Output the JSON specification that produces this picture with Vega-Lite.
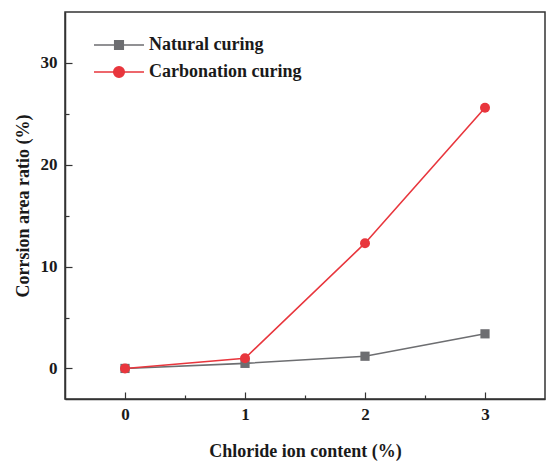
{
  "$schema": "https://vega.github.io/schema/vega-lite/v6.json",
  "autosize": "none",
  "width": 480,
  "height": 387,
  "padding": {"left": 65, "top": 12, "right": 2, "bottom": 62},
  "background": "white",
  "config": {
    "font": "Liberation Serif",
    "view": {"stroke": "#333333", "strokeWidth": 1.5},
    "axis": {
      "labelFont": "Liberation Serif",
      "labelFontWeight": "bold",
      "labelFontSize": 17,
      "labelColor": "#1a1a1a",
      "titleFont": "Liberation Serif",
      "titleFontWeight": "bold",
      "titleFontSize": 18,
      "titleColor": "#1a1a1a",
      "domainColor": "#333333",
      "domainWidth": 1.5,
      "tickColor": "#333333",
      "tickWidth": 1.2,
      "grid": false
    }
  },
  "data": {
    "values": [
      {"content": 0, "ratio": 0, "curing": "Natural curing"},
      {"content": 1, "ratio": 0.5, "curing": "Natural curing"},
      {"content": 2, "ratio": 1.2, "curing": "Natural curing"},
      {"content": 3, "ratio": 3.4, "curing": "Natural curing"},
      {"content": 0, "ratio": 0, "curing": "Carbonation curing"},
      {"content": 1, "ratio": 1.0, "curing": "Carbonation curing"},
      {"content": 2, "ratio": 12.3, "curing": "Carbonation curing"},
      {"content": 3, "ratio": 25.6, "curing": "Carbonation curing"}
    ]
  },
  "encoding": {
    "x": {
      "field": "content",
      "type": "quantitative",
      "scale": {"domain": [-0.5, 3.5], "nice": false, "zero": false},
      "axis": {
        "title": "Chloride ion content (%)",
        "values": [0, 0.5, 1, 1.5, 2, 2.5, 3],
        "labelExpr": "datum.value % 1 === 0 ? format(datum.value, 'd') : ''",
        "tickSize": {"condition": {"test": "datum.value % 1 !== 0", "value": -4}, "value": -7},
        "labelPadding": 14,
        "titlePadding": 20
      }
    },
    "y": {
      "field": "ratio",
      "type": "quantitative",
      "scale": {"domain": [-3, 35], "nice": false, "zero": false},
      "axis": {
        "title": "Corrsion area ratio (%)",
        "values": [0, 5, 10, 15, 20, 25, 30],
        "labelExpr": "datum.value % 10 === 0 ? format(datum.value, 'd') : ''",
        "tickSize": {"condition": {"test": "datum.value % 10 !== 0", "value": -4}, "value": -7},
        "labelPadding": 15,
        "titlePadding": 8
      }
    },
    "color": {
      "field": "curing",
      "type": "nominal",
      "sort": ["Natural curing", "Carbonation curing"],
      "scale": {"domain": ["Natural curing", "Carbonation curing"], "range": ["#6d6e71", "#e8363d"]},
      "legend": {
        "title": null,
        "orient": "none",
        "legendX": 45,
        "legendY": 24,
        "padding": 0,
        "symbolSize": 100,
        "symbolType": "M-5,0H5M-0.85,-0.85H0.85V0.85H-0.85Z",
        "labelOffset": 21,
        "rowPadding": 9,
        "labelFont": "Liberation Serif",
        "labelFontWeight": "bold",
        "labelFontSize": 18,
        "labelColor": "#1a1a1a",
        "encode": {
          "symbols": {
            "update": {
              "shape": {"signal": "datum.value === 'Natural curing' ? 'M-5,0H5M-0.85,-0.85H0.85V0.85H-0.85Z' : 'M-5,0H5M1.05,0A1.05,1.05 0 1,1 -1.05,0A1.05,1.05 0 1,1 1.05,0Z'"},
              "fill": {"signal": "datum.value === 'Natural curing' ? '#6d6e71' : '#e8363d'"},
              "stroke": {"signal": "datum.value === 'Natural curing' ? '#6d6e71' : '#e8363d'"},
              "strokeWidth": {"value": 1.6},
              "opacity": {"value": 1}
            }
          }
        }
      }
    }
  },
  "layer": [
    {
      "mark": {"type": "line", "strokeWidth": 1.6}
    },
    {
      "transform": [{"filter": "datum.curing === 'Natural curing'"}],
      "mark": {"type": "point", "filled": true, "opacity": 1, "shape": "square", "size": 85}
    },
    {
      "transform": [{"filter": "datum.curing === 'Carbonation curing'"}],
      "mark": {"type": "point", "filled": true, "opacity": 1, "shape": "circle", "size": 100}
    }
  ]
}
